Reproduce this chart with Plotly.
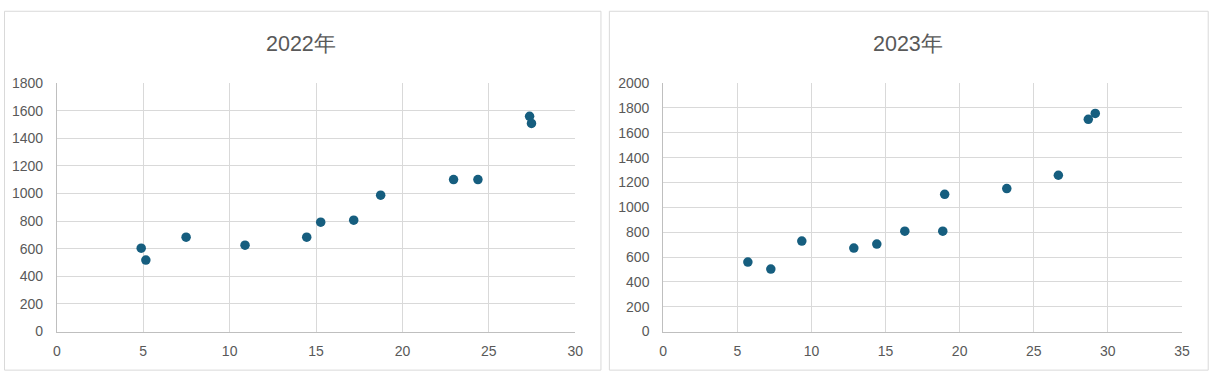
import plotly.graph_objects as go

W, H = 1217, 379

# 2022 data
x2022 = [4.88, 5.15, 7.48, 10.89, 14.46, 15.27, 17.18, 18.74, 22.96, 24.37, 27.36, 27.47]
y2022 = [604, 518, 684, 626, 684, 792, 807, 988, 1101, 1101, 1559, 1508]

# 2023 data
x2023 = [5.71, 7.26, 9.35, 12.86, 14.41, 16.30, 18.86, 18.99, 23.18, 26.66, 28.68, 29.15]
y2023 = [559, 503, 728, 672, 704, 808, 808, 1105, 1151, 1258, 1708, 1756]

titles = ["2022年", "2023年"]
x_ticks_left = [0, 5, 10, 15, 20, 25, 30]
x_ticks_right = [0, 5, 10, 15, 20, 25, 30, 35]
y_ticks_left = list(range(0, 1801, 200))
y_ticks_right = list(range(0, 2001, 200))

MARK = "#165E7F"
GRID = "#D9D9D9"
AXL = "#BFBFBF"
TXT = "#595959"
FONT = "Liberation Sans, Arial, sans-serif"

def px(x):
    return x / W

def py(y):
    return (H - y) / H

fig = go.Figure()
fig.add_trace(go.Scatter(x=x2022, y=y2022, mode="markers", xaxis="x", yaxis="y",
                         marker=dict(color=MARK, size=9.5), showlegend=False))
fig.add_trace(go.Scatter(x=x2023, y=y2023, mode="markers", xaxis="x2", yaxis="y2",
                         marker=dict(color=MARK, size=9.5), showlegend=False))

def xax(dom, rng, ticks, anchor):
    return dict(domain=dom, range=rng, tickvals=ticks, showgrid=True, gridcolor=GRID, gridwidth=1,
                zeroline=False, showline=True, linecolor=AXL, linewidth=1, mirror=False,
                ticks="", ticklabelstandoff=7,
                tickfont=dict(size=14, color=TXT, family=FONT), anchor=anchor, fixedrange=True)

def yax(dom, rng, ticks, anchor):
    return dict(domain=dom, range=rng, tickvals=ticks, showgrid=True, gridcolor=GRID, gridwidth=1,
                zeroline=False, showline=True, linecolor=AXL, linewidth=1,
                ticks="", ticklabelstandoff=10,
                tickfont=dict(size=14, color=TXT, family=FONT), anchor=anchor, fixedrange=True)

ydom = [py(337.8), py(78.4)]
fig.update_layout(
    width=W, height=H, autosize=False,
    margin=dict(l=0, r=0, t=0, b=0),
    paper_bgcolor="white", plot_bgcolor="white",
    font=dict(family=FONT, color=TXT),
    xaxis=xax([px(53.4), px(576.9)], [0, 30], x_ticks_left, "y"),
    yaxis=yax(ydom, [0, 1800], y_ticks_left, "x"),
    xaxis2=xax([px(665.8), px(1189.7)], [0, 35], x_ticks_right, "y2"),
    yaxis2=yax(ydom, [0, 2000], y_ticks_right, "x2"),
    shapes=[
        dict(type="rect", xref="paper", yref="paper", x0=px(0.5), x1=px(602.9), y0=py(378.1), y1=py(3.4),
             line=dict(color=GRID, width=1), fillcolor="rgba(0,0,0,0)", layer="below"),
        dict(type="rect", xref="paper", yref="paper", x0=px(611.4), x1=px(1216.2), y0=py(378.1), y1=py(3.4),
             line=dict(color=GRID, width=1), fillcolor="rgba(0,0,0,0)", layer="below"),
    ],
    annotations=[
        dict(text=titles[0], xref="paper", yref="paper", x=px(300), y=py(37.5), showarrow=False,
             font=dict(size=21.5, color=TXT, family=FONT), xanchor="center", yanchor="middle"),
        dict(text=titles[1], xref="paper", yref="paper", x=px(912.8), y=py(37.5), showarrow=False,
             font=dict(size=21.5, color=TXT, family=FONT), xanchor="center", yanchor="middle"),
    ],
)

fig.write_html("out.html", config={"displayModeBar": False},
               post_script="document.body.style.margin='0';document.body.style.overflow='hidden';")
